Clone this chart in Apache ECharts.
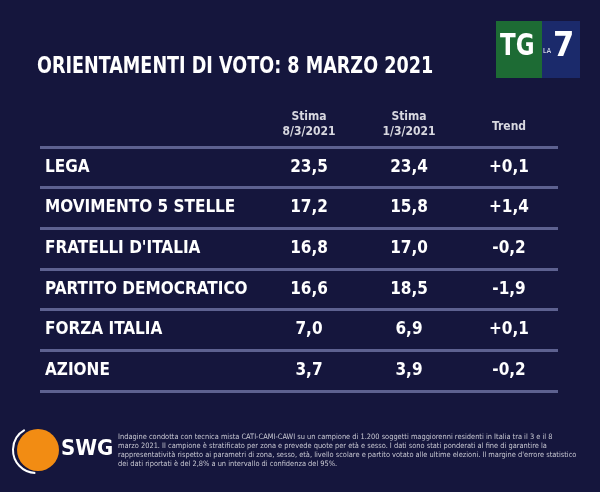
<!DOCTYPE html><html><head><meta charset="utf-8">
<script src="https://cdn.jsdelivr.net/npm/echarts@6/dist/echarts.min.js"></script>
<style>html,body{margin:0;background:#15163d}#c{width:600px;height:492px}</style></head><body><div id="c"></div><script>
const parties=['LEGA','MOVIMENTO 5 STELLE',"FRATELLI D'ITALIA",'PARTITO DEMOCRATICO','FORZA ITALIA','AZIONE'];
const columns=['','','Stima\n8/3/2021','Stima\n1/3/2021','Trend'];
const stima8=[23.5,17.2,16.8,16.6,7.0,3.7];
const stima1=[23.4,15.8,17.0,18.5,6.9,3.9];
const trend=[0.1,1.4,-0.2,-1.9,0.1,-0.2];
const F='"DejaVu Sans Condensed","DejaVu Sans",sans-serif';
const fmt=v=>v.toFixed(1).replace('.',',');
const fmtT=v=>(v>0?'+':'')+fmt(v);
const mk=(arr,col,f)=>arr.map((v,i)=>({value:[col,parties[i]],label:{formatter:f(v)}}));
const ser=(arr,col,f)=>({type:'scatter',xAxisIndex:0,yAxisIndex:0,symbolSize:1,itemStyle:{opacity:0},data:mk(arr,col,f),
 label:{show:true,position:'inside',color:'#ffffff',opacity:1,fontFamily:F,fontWeight:'bold',fontSize:17}});
const ch=echarts.init(document.getElementById('c'));
ch.setOption({backgroundColor:'#15163d',animation:false,
grid:[{left:59,right:41,top:147,height:244},{left:40,right:42,top:147,height:244}],
xAxis:[{type:'category',data:columns,position:'top',axisLine:{show:false},axisTick:{show:false},
 axisLabel:{color:'#d8d8e0',fontFamily:F,fontWeight:'bold',fontSize:12,lineHeight:15,margin:8,
  formatter:v=>v==='Trend'?'{t|Trend}':v,
  rich:{t:{color:'#d8d8e0',fontFamily:F,fontWeight:'bold',fontSize:12,padding:[0,0,9,0]}}}},
 {type:'category',gridIndex:1,show:false,data:['a']}],
yAxis:[{type:'category',data:parties,inverse:true,axisLine:{show:false},axisTick:{show:false},splitLine:{show:false},
 axisLabel:{color:'#fff',fontFamily:F,fontWeight:'bold',fontSize:17,align:'left',margin:14}},
 {type:'category',gridIndex:1,data:parties,inverse:true,axisLine:{show:false},axisTick:{show:false},axisLabel:{show:false},
 splitLine:{show:true,lineStyle:{color:'#5d6190',width:3}}}],
series:[ser(stima8,columns[2],fmt),ser(stima1,columns[3],fmt),ser(trend,columns[4],fmtT)],
graphic:[
 {type:'text',x:37,y:56,scaleX:0.85,style:{text:'ORIENTAMENTI DI VOTO: 8 MARZO 2021',fill:'#fff',font:'bold 23px '+F}},
 {type:'rect',shape:{x:496,y:21,width:46,height:57},style:{fill:'#1d6b34'}},
 {type:'rect',shape:{x:542,y:21,width:38,height:57},style:{fill:'#1b2a6b'}},
 {type:'text',x:500,y:32,scaleX:0.85,style:{text:'TG',fill:'#fff',font:'bold 30px '+F}},
 {type:'text',x:543,y:48,style:{text:'LA',fill:'#fff',font:'7px '+F}},
 {type:'text',x:553,y:30,style:{text:'7',fill:'#fff',font:'bold 34px '+F}},
 {type:'circle',shape:{cx:38,cy:450,r:21},style:{fill:'#f28c13'}},
 {type:'arc',shape:{cx:36,cy:450,r:23,startAngle:1.6,endAngle:4.2},style:{stroke:'#fff',lineWidth:2,fill:null}},
 {type:'text',x:61,y:438,style:{text:'SWG',fill:'#fff',font:'bold 22px '+F}},
 {type:'text',x:118,y:432,style:{text:"Indagine condotta con tecnica mista CATI-CAMI-CAWI su un campione di 1.200 soggetti maggiorenni residenti in Italia tra il 3 e il 8\nmarzo 2021. Il campione è stratificato per zona e prevede quote per età e sesso. I dati sono stati ponderati al fine di garantire la\nrappresentatività rispetto ai parametri di zona, sesso, età, livello scolare e partito votato alle ultime elezioni. Il margine d'errore statistico\ndei dati riportati è del 2,8% a un intervallo di confidenza del 95%.",fill:'#c8c8d2',font:'7.4px '+F,lineHeight:9.2}}
]});
</script></body></html>
